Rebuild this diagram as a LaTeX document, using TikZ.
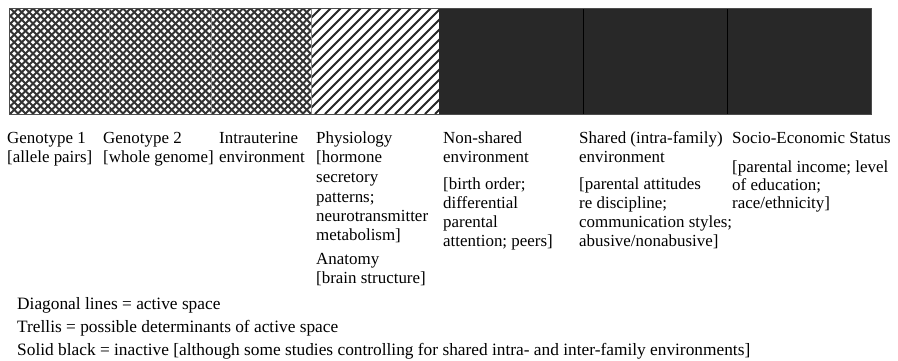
\documentclass[tikz,border=0pt]{standalone}
\usepackage{fontspec}
\setmainfont{Liberation Serif}
\definecolor{inkblack}{HTML}{282828}
\begin{document}
\begin{tikzpicture}[x=1bp,y=-1bp,
  lbl/.style={anchor=base west, inner sep=0pt, font=\fontsize{17}{19}\selectfont},
  legend/.style={anchor=base west, inner sep=0pt, font=\fontsize{17.4}{19}\selectfont},
  trellisline/.style={line width=2bp, black!80},
  diagline/.style={line width=1.8bp, black!85},
  sepline/.style={line width=0.8bp, black!45},
  darksep/.style={line width=1bp, black}]
\useasboundingbox (0,0) rectangle (898,360);
% trellis part
\begin{scope}
  \clip (9,8) rectangle (311,114);
  \fill[white] (9,8) rectangle (311,114);
  \foreach \a in {-110,-102.5,...,320} {
    \draw[trellisline] (\a,114) -- ++(106,-106);
    \draw[trellisline] (\a,8) -- ++(106,106);
  }
\end{scope}
\draw[sepline] (109,8) -- (109,114);
\draw[sepline] (211,8) -- (211,114);
% diagonal lines part
\begin{scope}
  \clip (311,8) rectangle (439,114);
  \fill[white] (311,8) rectangle (439,114);
  \foreach \a in {195,205,...,450} {
    \draw[diagline] (\a,114) -- ++(106,-106);
  }
\end{scope}
\draw[sepline] (311,8) -- (311,114);
% solid black part
\fill[inkblack] (439,8) rectangle (871,114);
\draw[darksep] (583,8) -- (583,114);
\draw[darksep] (727,8) -- (727,114);
\draw[line width=0.8bp, black!70] (9,8) rectangle (871,114);

% column texts
\node[lbl] (g1a) at (7,143) {Genotype 1};
\node[lbl] (g1b) at (7,162) {[allele pairs]};
\node[lbl] (g2a) at (103,143) {Genotype 2};
\node[lbl] (g2b) at (103,162) {[whole genome]};
\node[lbl] (iua) at (219,143) {Intrauterine};
\node[lbl] (iub) at (219,162) {environment};
\node[lbl] (ph1) at (316,143) {Physiology};
\node[lbl] (ph2) at (316,162) {[hormone};
\node[lbl] (ph3) at (316,182) {secretory};
\node[lbl] (ph4) at (316,202) {patterns;};
\node[lbl] (ph5) at (316,221) {neurotransmitter};
\node[lbl] (ph6) at (316,240) {metabolism]};
\node[lbl] (ph7) at (316,264) {Anatomy};
\node[lbl] (ph8) at (316,283) {[brain structure]};
\node[lbl] (ns1) at (443,143) {Non-shared};
\node[lbl] (ns2) at (443,162) {environment};
\node[lbl] (ns3) at (443,189) {[birth order;};
\node[lbl] (ns4) at (443,208) {differential};
\node[lbl] (ns5) at (443,227) {parental};
\node[lbl] (ns6) at (443,246) {attention; peers]};
\node[lbl] (sh1) at (579,143) {Shared (intra-family)};
\node[lbl] (sh2) at (579,162) {environment};
\node[lbl] (sh3) at (579,189) {[parental attitudes};
\node[lbl] (sh4) at (579,208) {re discipline;};
\node[lbl] (sh5) at (579,227) {communication styles;};
\node[lbl] (sh6) at (579,246) {abusive/nonabusive]};
\node[lbl] (se1) at (732,143) {Socio-Economic Status};
\node[lbl] (se2) at (732,172) {[parental income; level};
\node[lbl] (se3) at (732,190) {of education;};
\node[lbl] (se4) at (732,208) {race/ethnicity]};

% legend
\node[legend] (lg1) at (17,309) {Diagonal lines = active space};
\node[legend] (lg2) at (17,332) {Trellis = possible determinants of active space};
\node[legend] (lg3) at (17,355) {Solid black = inactive [although some studies controlling for shared intra- and inter-family environments]};
\end{tikzpicture}
\end{document}
